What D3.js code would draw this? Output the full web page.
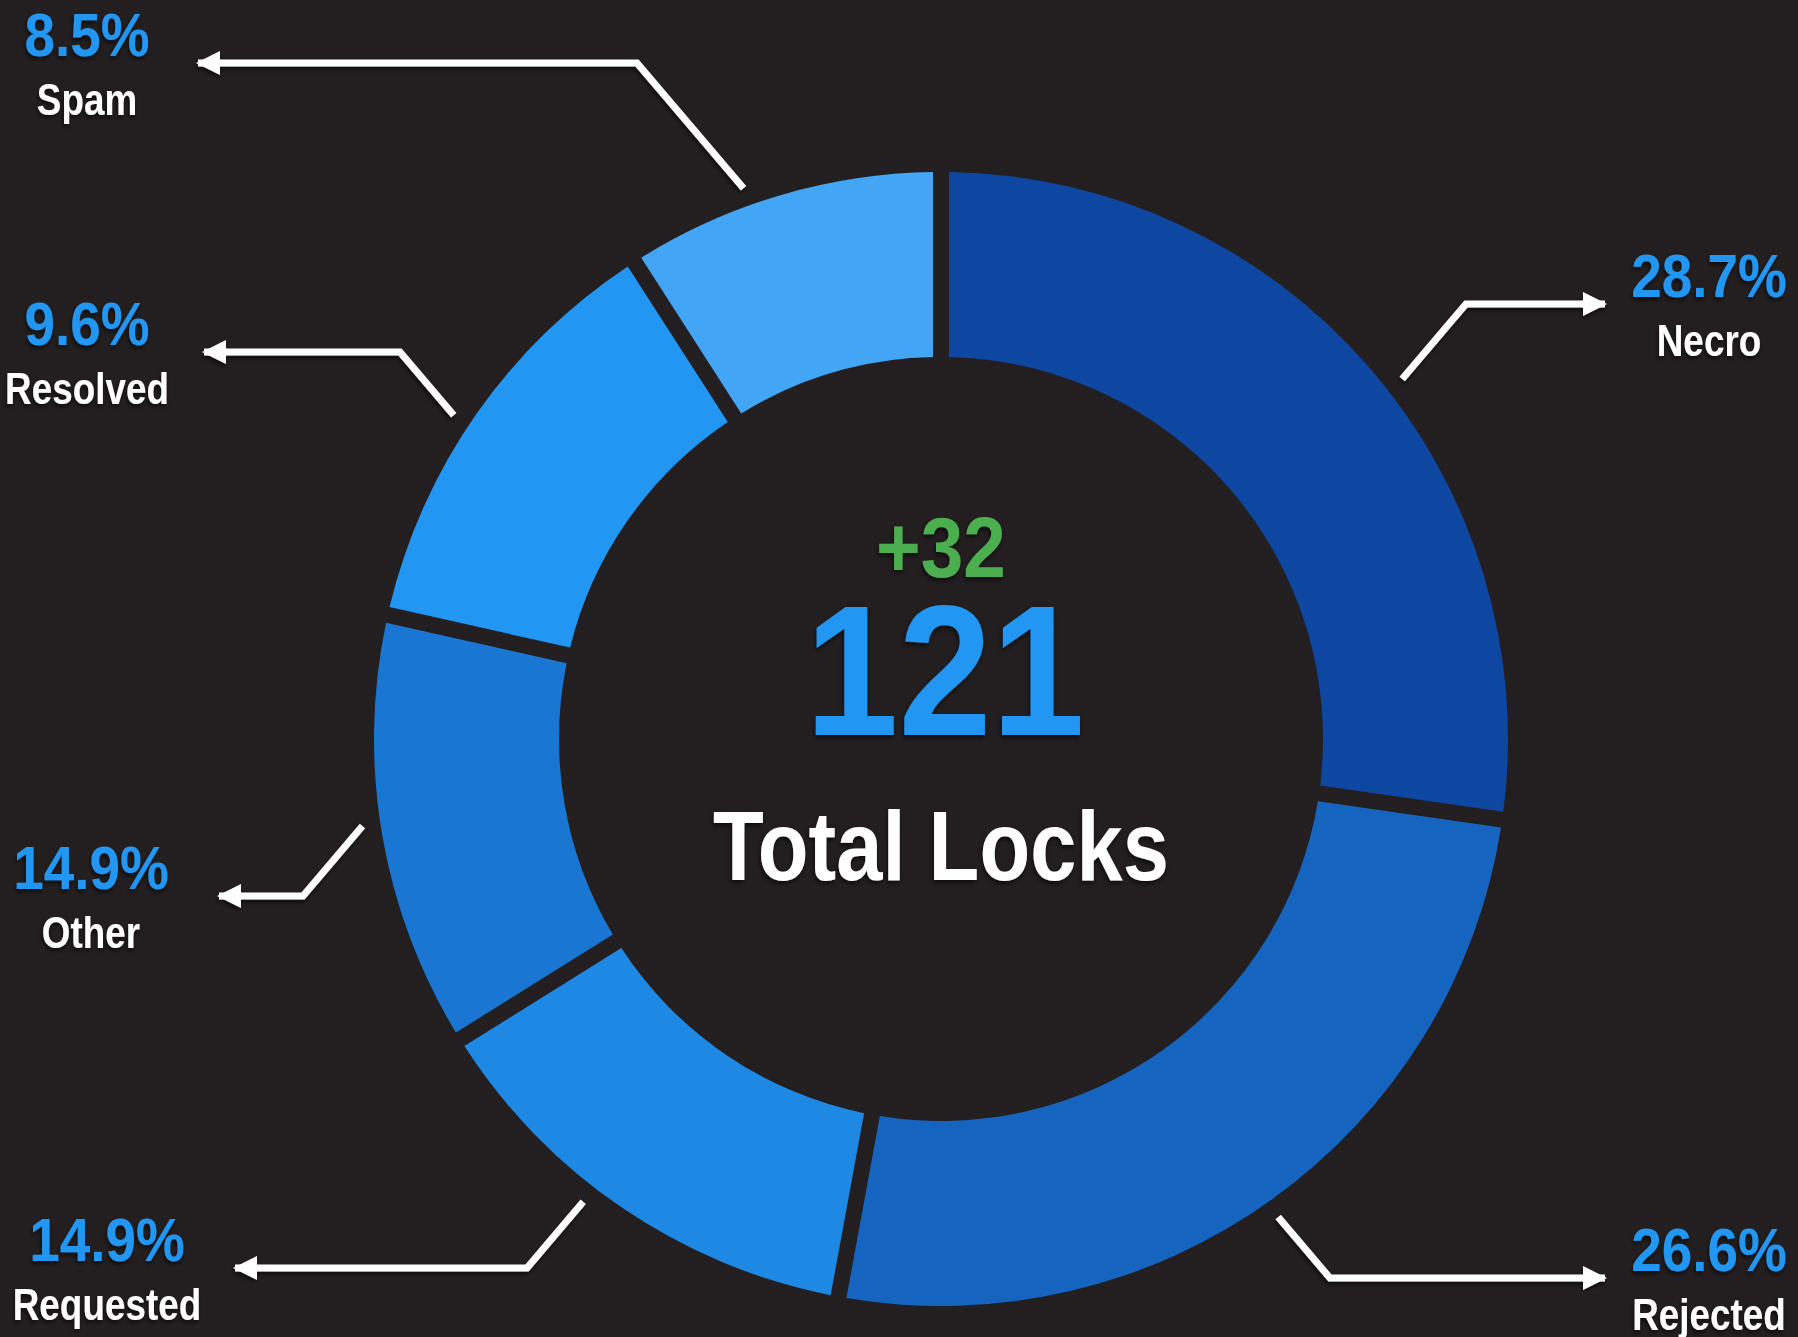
<!DOCTYPE html>
<html>
<head>
<meta charset="utf-8">
<script src="https://cdn.jsdelivr.net/npm/d3@7"></script>
<style>
  body { margin: 0; background: #231f20; }
  text { font-family: "Liberation Sans", Arial, sans-serif; font-weight: bold; }
</style>
</head>
<body>
<script>
// lock reasons, clockwise from 12 o'clock
var categories = ["Necro", "Rejected", "Requested", "Other", "Resolved", "Spam"];
var counts = [33, 31, 16, 15, 15, 11];
var pctLabels = ["28.7%", "26.6%", "14.9%", "14.9%", "9.6%", "8.5%"];
var totalLocks = 121;
var change = "+32";

var colors = ["#0d47a1", "#1565c0", "#1e88e5", "#1976d2", "#2196f3", "#42a5f5"];

var chart = {
	width: 1798,
	height: 1337,
	cx: 941,
	cy: 739,
	outer: 567,
	inner: 382,
	gap: 16,
	leadR: 585,  // leaders stop just short of the ring
	slope: 0.85  // dx per dy on the slanted part
};

// leader elbows and arrow ends, plus where the label sits
var leaders = [
	{ ex: 1466, ey: 304, tipX: 1605, textX: 1709 },
	{ ex: 1330, ey: 1278, tipX: 1605, textX: 1709 },
	{ ex: 527, ey: 1268, tipX: 235, textX: 107 },
	{ ex: 303, ey: 896, tipX: 219, textX: 91 },
	{ ex: 400, ey: 352, tipX: 204, textX: 87 },
	{ ex: 637, ey: 63, tipX: 198, textX: 87 }
];

var slices = categories.map(function(c, i){
	return { name: c, value: counts[i], pct: pctLabels[i], color: colors[i], lead: leaders[i] };
});

var svg = d3.select("body")
	.append("svg")
	.attr("width", chart.width)
	.attr("height", chart.height);

svg.append("rect")
	.attr("width", chart.width)
	.attr("height", chart.height)
	.attr("fill", "#231f20");

var defs = svg.append("defs");

defs.append("filter")
	.attr("id", "shadow")
	.attr("x", "-20%").attr("y", "-20%")
	.attr("width", "140%").attr("height", "140%")
	.append("feDropShadow")
	.attr("dx", -1).attr("dy", 3)
	.attr("stdDeviation", 2)
	.attr("flood-color", "#000")
	.attr("flood-opacity", 0.6);

defs.append("marker")
	.attr("id", "arrow")
	.attr("markerUnits", "userSpaceOnUse")
	.attr("viewBox", "0 0 24 24")
	.attr("refX", 22)
	.attr("refY", 12)
	.attr("markerWidth", 24)
	.attr("markerHeight", 24)
	.attr("orient", "auto")
	.append("path")
	.attr("d", "M0,0 L24,12 L0,24 Z")
	.attr("fill", "#fff");

var pie = d3.pie()
	.sort(null)
	.value(function(d){ return d.value; });

var arc = d3.arc()
	.innerRadius(chart.inner)
	.outerRadius(chart.outer)
	.padRadius(chart.outer)
	.padAngle(chart.gap / chart.outer);

var g = svg.append("g")
	.attr("transform", "translate(" + chart.cx + "," + chart.cy + ")");

var arcs = pie(slices);

g.selectAll("path.slice")
	.data(arcs)
	.enter()
	.append("path")
	.attr("class", "slice")
	.attr("d", arc)
	.attr("fill", function(d){ return d.data.color; });

// walk from the elbow toward the ring until we hit leadR
function leaderStart(d){
	var l = d.data.lead;
	var mid = (d.startAngle + d.endAngle) / 2;
	var ax = Math.sin(mid), ay = -Math.cos(mid);
	var ux = ax > 0 ? -chart.slope : chart.slope;
	var uy = ay > 0 ? -1 : 1;
	var px = l.ex - chart.cx, py = l.ey - chart.cy;
	var a = ux * ux + uy * uy;
	var b = 2 * (px * ux + py * uy);
	var c = px * px + py * py - chart.leadR * chart.leadR;
	var t = (-b - Math.sqrt(Math.max(0, b * b - 4 * a * c))) / (2 * a);
	return [l.ex + ux * t, l.ey + uy * t];
}

svg.selectAll("polyline.leader")
	.data(arcs)
	.enter()
	.append("polyline")
	.attr("class", "leader")
	.attr("points", function(d){
		var l = d.data.lead;
		return [leaderStart(d), [l.ex, l.ey], [l.tipX, l.ey]].join(" ");
	})
	.attr("fill", "none")
	.attr("stroke", "#fff")
	.attr("stroke-width", 7)
	.attr("stroke-linejoin", "miter")
	.attr("marker-end", "url(#arrow)")
	.attr("filter", "url(#shadow)");

// the bold face, squeezed sideways to look condensed
function narrowText(sel, x, y, size, squeeze, fill, txt){
	return sel.append("text")
		.attr("transform", function(d){
			return "translate(" + x(d) + "," + y(d) + ") scale(" + squeeze + ",1)";
		})
		.attr("text-anchor", "middle")
		.attr("font-size", size)
		.attr("fill", fill)
		.text(txt);
}

var labels = svg.selectAll("g.label")
	.data(arcs)
	.enter()
	.append("g")
	.attr("class", "label")
	.attr("filter", "url(#shadow)");

narrowText(labels,
	function(d){ return d.data.lead.textX; },
	function(d){ return d.data.lead.ey - 7; },
	61, 0.9, "#2196f3",
	function(d){ return d.data.pct; });

narrowText(labels,
	function(d){ return d.data.lead.textX; },
	function(d){ return d.data.lead.ey + 52; },
	45, 0.82, "#fff",
	function(d){ return d.data.name; });

// centre
var centre = svg.append("g")
	.attr("filter", "url(#shadow)")
	.datum(0);

narrowText(centre, function(){ return chart.cx; }, function(){ return 577; }, 86, 0.89, "#4caf50", change);
narrowText(centre, function(){ return chart.cx + 4; }, function(){ return 735; }, 186, 0.9, "#2196f3", totalLocks);
narrowText(centre, function(){ return chart.cx; }, function(){ return 880; }, 99, 0.84, "#fff", "Total Locks");
</script>
</body>
</html>
